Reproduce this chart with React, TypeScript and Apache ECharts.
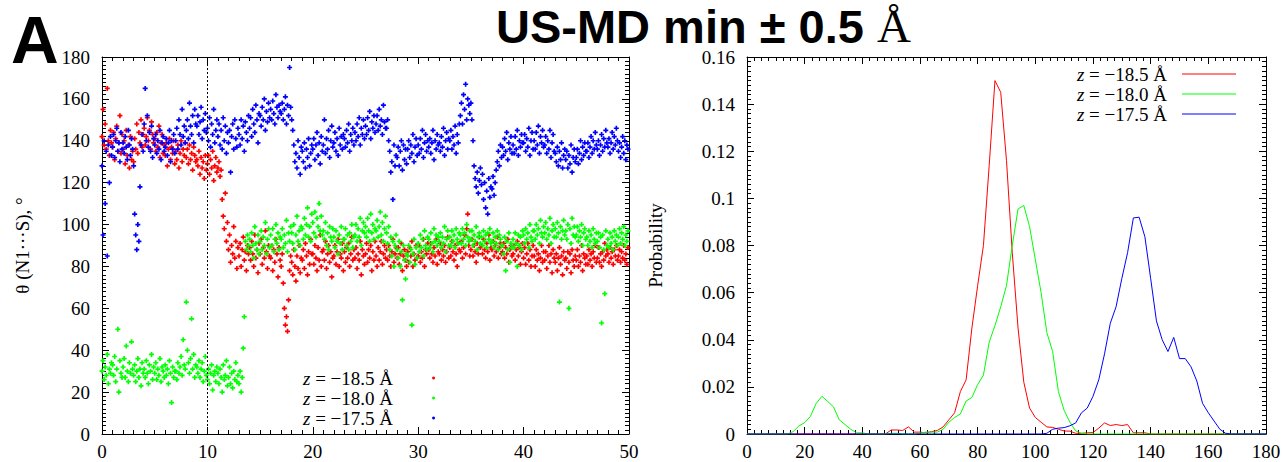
import React, { useEffect, useRef } from "react";
import * as echarts from "echarts";

// ---------- DATA ----------
const TIME_STEP = 0.1; // x spacing of the trajectory samples (left panel)
const BIN_WIDTH = 2; // histogram bin spacing (right panel), degrees

const seriesLabels = ["−18.5", "−18.0", "−17.5"];
const seriesColors = ["#ff0000", "#00ff00", "#0000ff"];

// theta trajectories, 10 samples per x unit (rows = x 0..49)
const thetaZ185 = [
  142,155,138,148,136,165,140,133,145,139,
  137,144,131,141,147,135,139,152,134,143,
  136,140,129,145,133,138,127,142,131,135,
  130,141,136,148,134,144,139,150,137,143,
  146,138,142,151,140,145,136,149,143,139,
  141,135,144,137,147,132,139,143,134,138,
  133,139,128,136,141,131,137,134,140,129,
  135,131,138,127,134,140,130,136,133,139,
  132,136,129,138,131,134,126,137,133,130,
  131,128,135,124,132,127,130,122,133,126,
  129,133,124,131,127,135,121,128,132,125,
  127,130,123,126,112,104,98,115,92,101,
  88,95,82,90,86,99,84,92,79,89,
  85,91,80,88,94,83,87,78,90,86,
  89,83,92,86,80,95,84,88,77,91,
  86,93,81,89,84,97,87,79,90,85,
  84,90,78,88,82,93,86,75,89,83,
  80,86,72,60,52,56,49,64,78,85,
  82,76,88,80,73,85,79,90,77,84,
  83,88,79,91,85,76,87,81,93,86,
  86,81,90,84,78,89,83,95,80,87,
  88,83,92,79,86,90,82,87,75,84,
  85,90,81,87,93,80,86,84,91,78,
  87,82,89,84,91,80,86,94,83,88,
  84,89,79,86,83,92,76,88,85,81,
  86,91,82,88,84,90,78,87,83,92,
  85,80,89,83,87,92,81,86,90,84,
  88,83,90,85,80,87,93,82,86,89,
  84,89,81,86,91,78,85,88,83,80,
  87,82,89,85,92,80,86,83,90,84,
  85,90,82,87,84,93,80,88,86,91,
  88,84,91,86,82,89,85,93,81,87,
  86,91,83,88,85,90,82,87,94,84,
  89,85,92,87,83,90,86,80,91,88,
  87,92,84,89,95,86,98,105,90,85,
  88,93,85,90,87,82,91,86,94,89,
  90,86,93,88,84,91,87,95,83,89,
  88,92,85,90,87,94,84,89,91,86,
  87,91,84,89,86,93,82,88,90,85,
  86,90,83,88,92,85,89,81,87,91,
  84,89,81,86,91,83,88,80,85,90,
  85,80,88,83,86,78,84,90,82,87,
  83,87,79,85,90,82,86,77,88,84,
  82,86,78,84,89,81,85,76,87,83,
  84,79,87,82,86,77,88,83,80,85,
  83,88,80,85,82,90,78,86,84,81,
  85,81,88,83,86,80,87,84,90,82,
  84,89,82,86,80,87,83,91,85,88,
  86,82,89,84,87,81,88,85,90,83,
  85,88,82,87,84,90,83,86,81,89,
];

const thetaZ180 = [
  30,35,26,32,28,38,24,31,29,34,
  33,28,37,25,31,50,20,35,29,27,
  32,36,27,42,30,25,34,29,44,31,
  28,33,25,30,36,27,31,23,34,29,
  31,27,35,29,24,33,30,38,26,32,
  29,34,26,31,28,36,25,32,30,27,
  33,28,31,24,35,29,15,32,27,30,
  30,26,34,29,32,37,28,45,33,31,
  63,40,34,29,36,55,31,38,27,33,
  32,29,35,27,31,34,25,30,37,28,
  26,31,24,29,33,21,28,30,25,32,
  29,24,31,27,20,33,26,28,35,23,
  27,32,24,29,22,30,26,34,25,28,
  24,30,20,27,41,56,92,88,95,90,
  93,87,96,90,84,99,91,88,95,86,
  92,97,88,94,90,101,86,93,98,89,
  95,90,98,87,93,100,91,96,88,94,
  93,98,89,95,91,102,87,96,92,99,
  96,91,100,88,95,104,92,97,90,99,
  98,93,103,95,100,108,94,99,92,105,
  101,96,106,94,103,99,110,97,104,95,
  97,93,101,90,96,88,99,94,92,98,
  94,89,97,92,86,95,91,99,88,93,
  93,98,90,95,88,96,92,100,89,94,
  95,100,92,98,94,103,90,97,101,96,
  99,94,103,97,92,105,96,100,93,98,
  97,102,94,99,106,95,101,92,98,104,
  96,91,99,88,94,85,92,80,90,95,
  88,84,92,80,87,64,90,83,74,86,
  85,90,82,88,52,86,93,81,89,84,
  91,87,95,89,93,85,97,90,88,94,
  93,89,96,91,87,98,92,95,90,94,
  92,96,89,94,91,99,87,93,97,90,
  94,90,97,92,95,89,98,93,91,96,
  95,91,98,93,96,90,100,94,92,97,
  93,97,90,95,92,99,88,94,96,91,
  94,90,97,92,95,89,96,93,98,91,
  92,96,89,94,91,97,88,95,93,90,
  90,86,94,78,92,88,96,82,91,89,
  93,89,96,91,80,95,90,94,88,97,
  95,91,98,93,96,89,100,94,92,97,
  97,93,100,95,98,91,102,96,94,99,
  96,101,93,98,95,103,91,97,100,94,
  98,94,101,96,63,99,93,97,102,95,
  97,93,100,60,98,91,103,95,99,94,
  95,99,92,97,94,100,90,96,98,93,
  94,90,97,92,95,89,98,93,91,96,
  92,96,89,94,53,95,88,67,97,90,
  93,89,96,91,94,88,97,92,95,90,
  94,98,91,96,93,99,90,95,92,97,
];

const thetaZ175 = [
  128,95,140,110,135,85,138,120,142,133,
  137,143,132,140,146,135,139,130,144,136,
  139,134,142,137,131,145,138,133,141,136,
  128,105,95,88,100,92,118,138,143,135,
  148,165,140,152,137,144,135,147,132,141,
  138,143,134,140,136,145,131,139,142,135,
  137,141,133,139,145,130,140,136,143,134,
  140,146,136,150,143,138,155,142,147,139,
  145,150,141,158,147,143,152,139,155,148,
  147,152,143,149,156,141,150,145,153,144,
  146,140,151,137,148,143,155,139,145,150,
  142,148,138,145,136,151,140,147,134,144,
  139,145,125,142,148,136,150,141,137,146,
  143,138,150,141,147,135,149,144,140,152,
  146,151,142,155,148,144,157,150,139,153,
  152,147,156,150,160,145,154,149,158,151,
  155,150,159,153,148,162,156,151,157,154,
  153,158,150,155,161,148,157,152,175,156,
  150,145,138,130,134,127,140,132,124,137,
  135,130,139,127,136,132,141,128,134,138,
  136,141,131,138,144,133,139,129,142,135,
  138,150,134,141,136,145,132,140,147,137,
  139,144,135,141,133,146,138,142,136,143,
  141,137,145,139,148,135,143,140,146,138,
  144,140,148,142,151,138,146,143,150,141,
  147,143,151,145,154,141,149,146,152,144,
  148,152,145,155,147,150,143,157,149,146,
  146,150,140,135,125,130,112,138,128,133,
  132,137,128,135,140,126,138,131,136,129,
  136,140,132,138,134,143,130,137,141,133,
  138,134,141,136,145,132,139,143,135,140,
  137,141,134,139,145,131,140,136,143,138,
  139,135,142,137,146,133,140,144,136,141,
  140,145,136,142,138,147,134,143,139,148,
  152,158,148,162,155,167,150,160,157,153,
  158,150,140,128,122,118,125,115,121,127,
  119,124,112,120,108,116,105,122,113,118,
  117,123,114,120,126,130,135,128,138,132,
  137,133,141,135,144,131,139,136,142,134,
  138,134,142,136,145,133,140,137,143,139,
  139,143,135,141,137,146,133,140,144,136,
  140,136,144,138,147,134,142,139,145,137,
  138,142,134,140,136,145,132,139,143,135,
  134,130,137,128,135,131,139,127,133,136,
  131,135,127,133,129,138,125,132,136,130,
  132,136,129,134,140,131,137,133,139,135,
  135,139,132,137,142,134,140,136,144,138,
  136,140,133,138,143,135,141,137,145,139,
  137,141,134,139,144,136,142,138,146,140,
  135,139,132,137,142,134,140,131,138,136,
];

// probability distributions, bins at 0,2,...,180 degrees
const probZ185 = [
  0,0,0,0,0,0,0,0,0,0,0,0,0,0,0,0,0,0,0,0,0,0,0,0,
  0,0.0017,0.0017,0.0015,0.003,0.0008,0.0008,0.0005,0.001,0.0015,
  0.003,0.006,0.009,0.018,0.023,0.045,0.063,0.08,0.114,0.15,
  0.145,0.116,0.077,0.045,0.022,0.011,0.007,0.005,0.003,0.0028,
  0.002,0.0013,0.0012,0.0003,0.0003,0.0005,0.0006,0.0025,0.0047,0.0036,
  0.004,0.0036,0.004,0.0005,0.0005,0.0005,0,
  0,0,0,0,0,0,0,0,0,0,0,0,0,0,0,0,0,0,0,0,
];
const probZ180 = [
  0,0,0,0,0,0,0,
  0,0.001,0.0034,0.0048,0.0075,0.013,0.016,0.0138,0.0115,0.006,
  0.004,0.002,0.0005,0.0005,0,0,0,0,0.0003,0.0003,
  0,0,0,0.0003,0.0008,0.0008,0.0008,0.002,0.005,0.007,
  0.0085,0.014,0.0155,0.021,0.025,0.039,0.046,0.054,0.063,0.08,
  0.0955,0.097,0.088,0.074,0.06,0.043,0.035,0.018,0.01,0.005,
  0.0013,0.0003,
  0,0,0,0,0,0,0,0,0,0,0,0,0,0,0,0,0,0,0,0,0,0,0,0,0,0,0,0,0,0,0,0,
];
const probZ175 = [
  0,0,0,0,0,0,0,0,0,0,0,0,0,0,0,0,0,0,0,0,0,0,0,0,0,0,
  0,0,0,0,0,0,0,0,0,0,0,0,0,0,0,0,0,0,0,0,0,0,0,0,0,0,
  0.0003,0.002,0.0025,0.0027,0.0035,0.0047,0.009,0.011,0.016,0.023,
  0.034,0.047,0.054,0.066,0.077,0.0917,0.092,0.0837,0.066,0.048,
  0.04,0.035,0.041,0.032,0.032,0.0285,0.0225,0.013,0.009,0.0055,
  0.002,0.0003,
  0,0,0,0,0,0,0,
];

const trajectories = [thetaZ185, thetaZ180, thetaZ175];
const distributions = [probZ185, probZ180, probZ175];

// ---------- STYLE ----------
const SERIF = '"Liberation Serif", "Times New Roman", serif';
const SANS = '"Liberation Sans", Arial, sans-serif';
const PLUS = "path://M1,0H2V1H3V2H2V3H1V2H0V1H1Z";

function axisCommon(min: number, max: number, interval: number, minorSplit: number, showLabel: boolean, pos: string, gridIndex: number, isX: boolean, fmt?: (v: number) => string) {
  return {
    type: "value",
    gridIndex,
    position: pos,
    min,
    max,
    interval,
    scale: false,
    axisLine: { show: true, onZero: false, lineStyle: { color: "#000", width: 1 } },
    axisTick: { show: true, inside: true, length: 7, lineStyle: { color: "#000", width: 1 } },
    minorTick: { show: true, splitNumber: minorSplit, length: 4, lineStyle: { color: "#000", width: 1 } },
    splitLine: { show: false },
    minorSplitLine: { show: false },
    axisLabel: {
      show: showLabel,
      color: "#000",
      fontFamily: SERIF,
      fontSize: 19,
      margin: isX ? 8 : 12,
      formatter: fmt,
    },
  };
}

export default function App() {
  const ref = useRef<HTMLDivElement>(null);
  useEffect(() => {
    if (!ref.current) return;
    const chart = echarts.init(ref.current, undefined, { renderer: "svg" });

    const leftNames = seriesLabels.map((l) => "L" + l);
    const rightNames = seriesLabels.map((l) => "R" + l);

    const scatterSeries = trajectories.map((arr, k) => ({
      type: "scatter",
      name: leftNames[k],
      xAxisIndex: 0,
      yAxisIndex: 0,
      symbol: PLUS,
      symbolSize: 5,
      itemStyle: { color: seriesColors[k], opacity: 1 },
      data: arr.map((v, i) => [i * TIME_STEP, v]),
      ...(k === 0
        ? {
            markLine: {
              silent: true,
              symbol: "none",
              label: { show: false },
              lineStyle: { color: "#000", type: [2, 2], width: 1 },
              data: [{ xAxis: 10 }],
            },
          }
        : {}),
    }));

    const lineSeries = distributions.map((arr, k) => ({
      type: "line",
      name: rightNames[k],
      xAxisIndex: 2,
      yAxisIndex: 2,
      symbol: "none",
      showSymbol: false,
      lineStyle: { color: seriesColors[k], width: 1 },
      itemStyle: { color: seriesColors[k] },
      data: arr.map((v, i) => [i * BIN_WIDTH, v]),
    }));

    const legendText = {
      color: "#000",
      fontFamily: SERIF,
      fontSize: 19,
      lineHeight: 20,
      rich: {
        i: { fontFamily: SERIF, fontStyle: "italic", fontSize: 19, lineHeight: 20, color: "#000" },
        n: { fontFamily: SERIF, fontSize: 19, lineHeight: 20, color: "#000" },
        g1: { width: 34 },
        g2: { width: 10 },
      },
    };

    const probFmt = (v: number) => (v === 0 ? "0" : String(Math.round(v * 100) / 100));

    chart.setOption({
      animation: false,
      backgroundColor: "#fff",
      grid: [
        { left: 102, top: 57, width: 527, height: 377 },
        { left: 747, top: 57, width: 519, height: 377 },
      ],
      xAxis: [
        axisCommon(0, 50, 10, 10, true, "bottom", 0, true),
        axisCommon(0, 50, 10, 10, false, "top", 0, true),
        axisCommon(0, 180, 20, 8, true, "bottom", 1, true),
        axisCommon(0, 180, 20, 8, false, "top", 1, true),
      ],
      yAxis: [
        {
          ...axisCommon(0, 180, 20, 10, true, "left", 0, false),
          name: "θ (N1···S), °",
          nameLocation: "middle",
          nameGap: 70,
          nameRotate: 90,
          nameTextStyle: { fontFamily: SERIF, fontSize: 19, color: "#000" },
        },
        axisCommon(0, 180, 20, 10, false, "right", 0, false),
        {
          ...axisCommon(0, 0.16, 0.02, 10, true, "left", 1, false, probFmt),
          name: "Probability",
          nameLocation: "middle",
          nameGap: 82,
          nameRotate: 90,
          nameTextStyle: { fontFamily: SERIF, fontSize: 19, color: "#000" },
        },
        axisCommon(0, 0.16, 0.02, 10, false, "right", 1, false),
      ],
      legend: [
        {
          data: leftNames,
          orient: "vertical",
          left: 298,
          top: 363,
          align: "right",
          itemGap: 0,
          itemWidth: 3,
          itemHeight: 3,
          icon: "circle",
          selectedMode: false,
          textStyle: legendText,
          formatter: (name: string) => `{i|z}{n| = ${name.slice(1)} Å}{g1| }`,
        },
        {
          data: rightNames,
          orient: "vertical",
          right: 46,
          top: 59,
          align: "right",
          itemGap: 0,
          itemWidth: 54,
          itemHeight: 1,
          icon: "rect",
          selectedMode: false,
          textStyle: legendText,
          formatter: (name: string) => `{i|z}{n| = ${name.slice(1)} Å}{g2| }`,
        },
      ],
      graphic: [
        {
          type: "text",
          x: 11,
          y: 40,
          style: { text: "A", font: `bold 66px ${SANS}`, fill: "#000", verticalAlign: "middle" },
        },
        {
          type: "text",
          x: 496,
          y: 26,
          style: {
            text: "{b|US-MD min ± 0.5 }{s|Å}",
            verticalAlign: "middle",
            rich: {
              b: { font: `bold 47px ${SANS}`, fill: "#000" },
              s: { font: `47px ${SERIF}`, fill: "#000" },
            },
          },
        },
      ],
      series: [...scatterSeries, ...lineSeries],
    });

    return () => chart.dispose();
  }, []);

  return <div ref={ref} style={{ position: "fixed", left: 0, top: 0, width: 1287, height: 462 }} />;
}
